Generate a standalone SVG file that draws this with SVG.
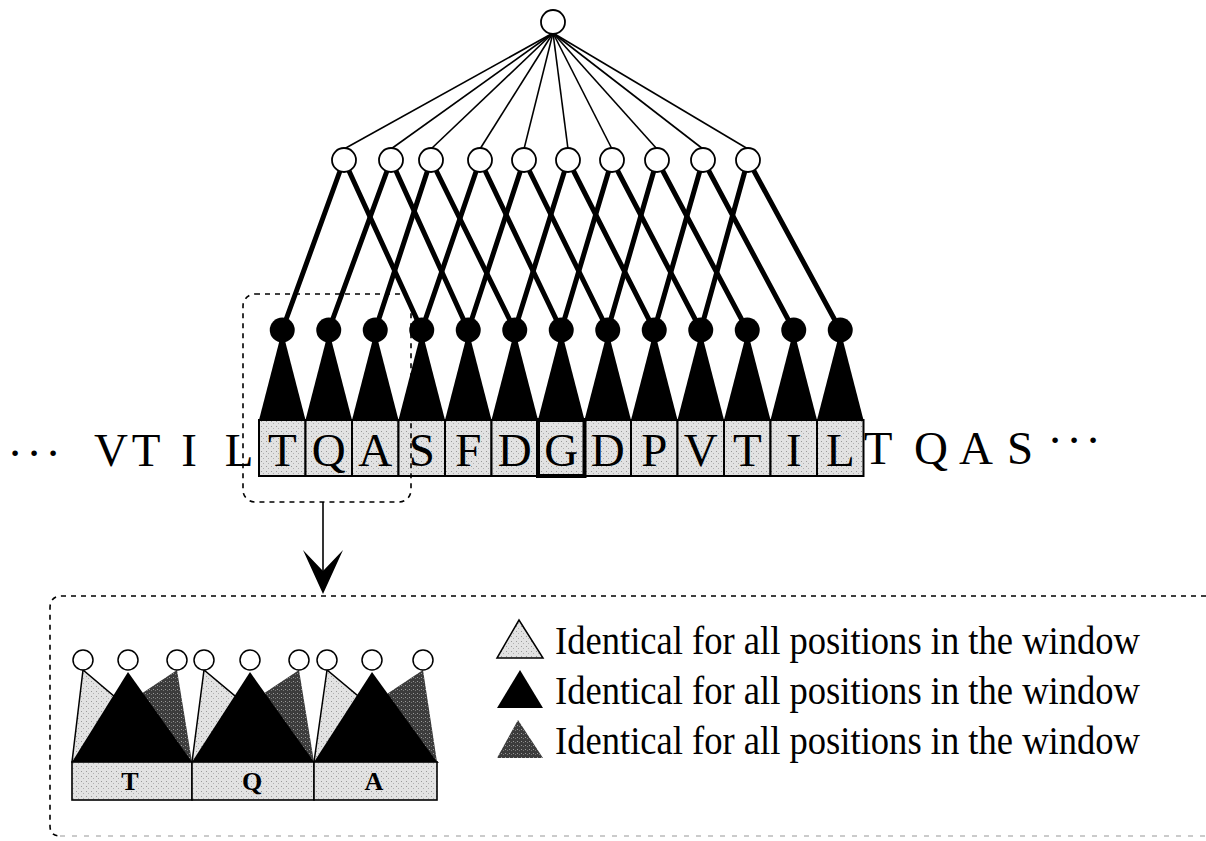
<svg xmlns="http://www.w3.org/2000/svg" width="1206" height="841" viewBox="0 0 1206 841">
<defs>
<pattern id="stip" width="5" height="5" patternUnits="userSpaceOnUse">
<rect width="5" height="5" fill="#e2e2e2"/>
<rect x="1" y="1" width="1" height="1" fill="#9a9a9a"/>
<rect x="3" y="3" width="1" height="1" fill="#b0b0b0"/>
</pattern>
<pattern id="dstip" width="4" height="4" patternUnits="userSpaceOnUse">
<rect width="4" height="4" fill="#3c3c3c"/>
<rect x="1" y="1" width="1" height="1" fill="#9a9a9a"/>
<rect x="3" y="2" width="1" height="1" fill="#777"/>
</pattern>
</defs>
<style>
.thin{stroke:#000;stroke-width:1.6;fill:none}
.thick{stroke:#000;stroke-width:5;fill:none;stroke-linecap:round}
.hid{fill:#fff;stroke:#000;stroke-width:1.8}
.blk{fill:#000}
.box{fill:url(#stip);stroke:#000;stroke-width:2}
.seq{font-family:"Liberation Serif",serif;font-size:47px;fill:#000;text-anchor:middle}
.dash{fill:none;stroke:#000;stroke-width:1.6;stroke-dasharray:5 5}
.ibox{fill:url(#stip);stroke:#000;stroke-width:1.6}
.ilet{font-family:"Liberation Serif",serif;font-size:26px;font-weight:bold;fill:#000;text-anchor:middle}
.light{fill:url(#stip);stroke:#000;stroke-width:1.5}
.dark{fill:url(#dstip)}
.leg{font-family:"Liberation Serif",serif;font-size:39px;fill:#000}
.ic{fill:#fff;stroke:#000;stroke-width:1.5}
</style>

<g id="connectors">
<line class="thin" x1="553" y1="33" x2="344" y2="149"/>
<line class="thin" x1="553" y1="33" x2="391" y2="149"/>
<line class="thin" x1="553" y1="33" x2="431" y2="149"/>
<line class="thin" x1="553" y1="33" x2="480" y2="149"/>
<line class="thin" x1="553" y1="33" x2="524" y2="149"/>
<line class="thin" x1="553" y1="33" x2="568" y2="149"/>
<line class="thin" x1="553" y1="33" x2="612" y2="149"/>
<line class="thin" x1="553" y1="33" x2="657" y2="149"/>
<line class="thin" x1="553" y1="33" x2="703" y2="149"/>
<line class="thin" x1="553" y1="33" x2="748" y2="149"/>
<line class="thick" x1="344" y1="160" x2="282.25" y2="330"/>
<line class="thick" x1="344" y1="160" x2="421.75" y2="330"/>
<line class="thick" x1="391" y1="160" x2="328.75" y2="330"/>
<line class="thick" x1="391" y1="160" x2="468.25" y2="330"/>
<line class="thick" x1="431" y1="160" x2="375.25" y2="330"/>
<line class="thick" x1="431" y1="160" x2="514.75" y2="330"/>
<line class="thick" x1="480" y1="160" x2="421.75" y2="330"/>
<line class="thick" x1="480" y1="160" x2="561.25" y2="330"/>
<line class="thick" x1="524" y1="160" x2="468.25" y2="330"/>
<line class="thick" x1="524" y1="160" x2="607.75" y2="330"/>
<line class="thick" x1="568" y1="160" x2="514.75" y2="330"/>
<line class="thick" x1="568" y1="160" x2="654.25" y2="330"/>
<line class="thick" x1="612" y1="160" x2="561.25" y2="330"/>
<line class="thick" x1="612" y1="160" x2="700.75" y2="330"/>
<line class="thick" x1="657" y1="160" x2="607.75" y2="330"/>
<line class="thick" x1="657" y1="160" x2="747.25" y2="330"/>
<line class="thick" x1="703" y1="160" x2="654.25" y2="330"/>
<line class="thick" x1="703" y1="160" x2="793.75" y2="330"/>
<line class="thick" x1="748" y1="160" x2="700.75" y2="330"/>
<line class="thick" x1="748" y1="160" x2="840.25" y2="330"/>
<line x1="323" y1="502" x2="323" y2="575" stroke="#000" stroke-width="1.6"/>
<polygon points="303,550 323,594 343,550 323,571" fill="#000"/>
</g>

<g id="output-node"><circle class="hid" cx="553" cy="22" r="12"/></g>

<g id="hidden-nodes">
<circle class="hid" cx="344" cy="160" r="12"/>
<circle class="hid" cx="391" cy="160" r="12"/>
<circle class="hid" cx="431" cy="160" r="12"/>
<circle class="hid" cx="480" cy="160" r="12"/>
<circle class="hid" cx="524" cy="160" r="12"/>
<circle class="hid" cx="568" cy="160" r="12"/>
<circle class="hid" cx="612" cy="160" r="12"/>
<circle class="hid" cx="657" cy="160" r="12"/>
<circle class="hid" cx="703" cy="160" r="12"/>
<circle class="hid" cx="748" cy="160" r="12"/>
</g>

<g id="input-units">
<polygon class="blk" points="282.25,330 259,420 305.5,420"/>
<polygon class="blk" points="328.75,330 305.5,420 352,420"/>
<polygon class="blk" points="375.25,330 352,420 398.5,420"/>
<polygon class="blk" points="421.75,330 398.5,420 445,420"/>
<polygon class="blk" points="468.25,330 445,420 491.5,420"/>
<polygon class="blk" points="514.75,330 491.5,420 538,420"/>
<polygon class="blk" points="561.25,330 538,420 584.5,420"/>
<polygon class="blk" points="607.75,330 584.5,420 631,420"/>
<polygon class="blk" points="654.25,330 631,420 677.5,420"/>
<polygon class="blk" points="700.75,330 677.5,420 724,420"/>
<polygon class="blk" points="747.25,330 724,420 770.5,420"/>
<polygon class="blk" points="793.75,330 770.5,420 817,420"/>
<polygon class="blk" points="840.25,330 817,420 863.5,420"/>
<circle class="blk" cx="282.25" cy="330" r="12.5"/>
<circle class="blk" cx="328.75" cy="330" r="12.5"/>
<circle class="blk" cx="375.25" cy="330" r="12.5"/>
<circle class="blk" cx="421.75" cy="330" r="12.5"/>
<circle class="blk" cx="468.25" cy="330" r="12.5"/>
<circle class="blk" cx="514.75" cy="330" r="12.5"/>
<circle class="blk" cx="561.25" cy="330" r="12.5"/>
<circle class="blk" cx="607.75" cy="330" r="12.5"/>
<circle class="blk" cx="654.25" cy="330" r="12.5"/>
<circle class="blk" cx="700.75" cy="330" r="12.5"/>
<circle class="blk" cx="747.25" cy="330" r="12.5"/>
<circle class="blk" cx="793.75" cy="330" r="12.5"/>
<circle class="blk" cx="840.25" cy="330" r="12.5"/>
</g>

<g id="window">
<rect class="box" x="259" y="420" width="46.5" height="56"/>
<rect class="box" x="305.5" y="420" width="46.5" height="56"/>
<rect class="box" x="352" y="420" width="46.5" height="56"/>
<rect class="box" x="398.5" y="420" width="46.5" height="56"/>
<rect class="box" x="445" y="420" width="46.5" height="56"/>
<rect class="box" x="491.5" y="420" width="46.5" height="56"/>
<rect class="box" x="584.5" y="420" width="46.5" height="56"/>
<rect class="box" x="631" y="420" width="46.5" height="56"/>
<rect class="box" x="677.5" y="420" width="46.5" height="56"/>
<rect class="box" x="724" y="420" width="46.5" height="56"/>
<rect class="box" x="770.5" y="420" width="46.5" height="56"/>
<rect class="box" x="817" y="420" width="46.5" height="56"/>
<rect class="box" x="538" y="420" width="46.5" height="56" style="stroke-width:4"/>
<text class="seq" x="282.25" y="466">T</text>
<text class="seq" x="328.75" y="466">Q</text>
<text class="seq" x="375.25" y="466">A</text>
<text class="seq" x="421.75" y="466">S</text>
<text class="seq" x="468.25" y="466">F</text>
<text class="seq" x="514.75" y="466">D</text>
<text class="seq" x="561.25" y="466">G</text>
<text class="seq" x="607.75" y="466">D</text>
<text class="seq" x="654.25" y="466">P</text>
<text class="seq" x="700.75" y="466">V</text>
<text class="seq" x="747.25" y="466">T</text>
<text class="seq" x="793.75" y="466">I</text>
<text class="seq" x="840.25" y="466">L</text>
</g>

<g id="sequence-left">
<text class="seq" x="15 34 53" y="469">···</text>
<text class="seq" x="111" y="466">V</text>
<text class="seq" x="146" y="466">T</text>
<text class="seq" x="189" y="466">I</text>
<text class="seq" x="239" y="466">L</text>
</g>

<g id="sequence-right">
<text class="seq" x="878" y="464">T</text>
<text class="seq" x="931" y="464">Q</text>
<text class="seq" x="976" y="464">A</text>
<text class="seq" x="1020" y="464">S</text>
<text class="seq" x="1055 1074 1093" y="456">···</text>
</g>

<g id="selection"><rect class="dash" x="243" y="294" width="168" height="208" rx="12"/></g>

<g id="inset-frame">
<path class="dash" d="M1206,596 L62,596 Q50,596 50,608 L50,826 Q50,836 60,836"/>
<path d="M60,836 L1206,836" fill="none" stroke="#bbb" stroke-width="1.4" stroke-dasharray="5 7"/>
</g>

<g id="inset-T">
<polygon class="light" points="83,670 72,762 192,762"/>
<polygon class="dark" points="177,670 192,762 160,762 142.8,692.8"/>
<polygon class="blk" points="128,672 72,762 192,762"/>
<rect class="ibox" x="72" y="762" width="120" height="38"/>
<circle class="ic" cx="83" cy="660" r="10"/>
<circle class="ic" cx="128" cy="660" r="10"/>
<circle class="ic" cx="177" cy="660" r="10"/>
<text class="ilet" x="130" y="790">T</text>
</g>
<g id="inset-Q">
<polygon class="light" points="204,670 192,762 314,762"/>
<polygon class="dark" points="299,670 314,762 282,762 264.8,692.8"/>
<polygon class="blk" points="250,672 192,762 314,762"/>
<rect class="ibox" x="192" y="762" width="122" height="38"/>
<circle class="ic" cx="204" cy="660" r="10"/>
<circle class="ic" cx="250" cy="660" r="10"/>
<circle class="ic" cx="299" cy="660" r="10"/>
<text class="ilet" x="252" y="790">Q</text>
</g>
<g id="inset-A">
<polygon class="light" points="327,670 314,762 437,762"/>
<polygon class="dark" points="423,670 437,762 405,762 387.6,693.6"/>
<polygon class="blk" points="372,672 314,762 437,762"/>
<rect class="ibox" x="314" y="762" width="123" height="38"/>
<circle class="ic" cx="327" cy="660" r="10"/>
<circle class="ic" cx="372" cy="660" r="10"/>
<circle class="ic" cx="423" cy="660" r="10"/>
<text class="ilet" x="374" y="790">A</text>
</g>

<g id="legend">
<polygon class="light" points="497,658 543,658 519,620"/>
<text class="leg" x="555" y="654" textLength="585" lengthAdjust="spacingAndGlyphs">Identical for all positions in the window</text>
<polygon class="blk" points="497,708 543,708 520,670"/>
<text class="leg" x="555" y="704" textLength="585" lengthAdjust="spacingAndGlyphs">Identical for all positions in the window</text>
<polygon class="dark" points="497,758 543,758 518,720"/>
<text class="leg" x="555" y="754" textLength="585" lengthAdjust="spacingAndGlyphs">Identical for all positions in the window</text>
</g>
</svg>
